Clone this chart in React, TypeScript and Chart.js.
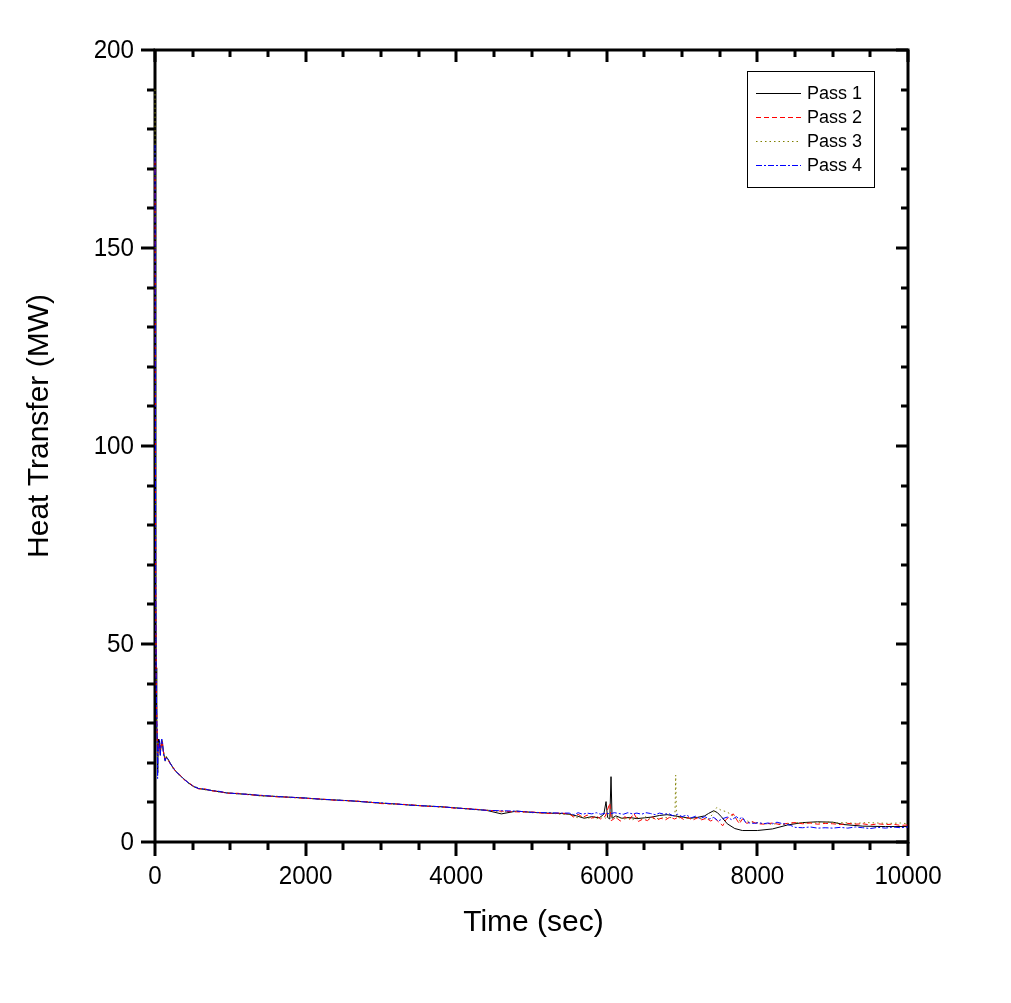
import React, { useEffect, useRef } from "react";
import { Chart, registerables } from "chart.js";

Chart.register(...registerables);

// ---- Data ----
const seriesNames = ["Pass 1", "Pass 2", "Pass 3", "Pass 4"];

const earlyTime = [
  0, 3, 6, 10, 15, 20, 25, 30, 35, 40,
  50, 60, 70, 80, 90, 100, 110, 120, 135, 150,
  170, 200, 240, 280, 320, 380, 440, 510, 580, 650,
  750, 850, 950, 1100, 1250, 1400, 1600, 1800, 2000, 2200,
  2400, 2600, 2800, 3000, 3200, 3400, 3600, 3800, 4000, 4200,
  4400, 4600, 4800, 5000, 5200, 5400,
];

const pass1Early = [
  200, 148, 96, 62, 44, 36, 31, 25, 17.5, 26,
  24, 25.5, 22, 24.5, 25.8, 24.8, 23, 22, 20.6, 21.5,
  21, 20, 18.7, 17.8, 17, 16, 15, 14, 13.5, 13.3,
  13, 12.7, 12.4, 12.2, 12, 11.7, 11.5, 11.3, 11.1, 10.8,
  10.6, 10.4, 10.1, 9.8, 9.6, 9.3, 9.1, 8.9, 8.6, 8.3,
  8.0, 7.1, 7.8, 7.5, 7.3, 7.2,
];
const pass2Early = [
  172, 140, 92, 60, 43, 35, 30, 27, 22, 25,
  23.5, 25, 22.5, 24, 25.5, 25, 23.2, 21.8, 20.8, 21.2,
  20.8, 19.8, 18.9, 17.6, 17.2, 15.8, 15.1, 14.1, 13.4, 13.5,
  12.9, 12.8, 12.3, 12.3, 11.9, 11.8, 11.4, 11.3, 11, 10.9,
  10.5, 10.4, 10.2, 9.7, 9.6, 9.4, 9.0, 8.9, 8.5, 8.4,
  8.0, 7.8, 7.6, 7.6, 7.2, 7.3,
];
const pass3Early = [
  190, 150, 98, 63, 45, 36, 31, 26, 21, 25.5,
  23, 25.2, 22.8, 24.2, 25.6, 24.6, 23.1, 22.1, 20.4, 21.6,
  20.9, 20.1, 18.5, 17.9, 16.8, 16.1, 14.8, 14.2, 13.6, 13.2,
  13.1, 12.6, 12.5, 12.1, 12.1, 11.6, 11.6, 11.2, 11.1, 10.7,
  10.7, 10.3, 10.2, 9.8, 9.5, 9.4, 9.1, 8.8, 8.7, 8.2,
  8.1, 7.6, 7.7, 7.4, 7.4, 7.0,
];
const pass4Early = [
  176, 146, 95, 61, 43, 35, 30, 24, 16, 24,
  23, 25.8, 21.8, 24.8, 26, 25.2, 22.8, 21.5, 20.5, 21.4,
  21, 19.9, 18.8, 17.7, 17.1, 15.9, 15, 14.1, 13.5, 13.4,
  13, 12.8, 12.4, 12.2, 12, 11.8, 11.5, 11.3, 11.1, 10.8,
  10.6, 10.4, 10.1, 9.9, 9.6, 9.3, 9.1, 8.9, 8.6, 8.3,
  8.0, 7.9, 7.8, 7.5, 7.4, 7.3,
];

const pass1TailTime = [
  5500, 5600, 5700, 5800, 5900, 5960, 5990, 6010, 6040, 6056,
  6070, 6120, 6200, 6300, 6400, 6500, 6600, 6700, 6800, 6900,
  7000, 7100, 7200, 7300, 7350, 7420, 7470, 7520, 7600, 7700,
  7800, 8000, 8200, 8400, 8600, 8800, 9000, 9150, 9400, 9700,
  10000,
];
const pass1TailHeat = [
  7.0, 6.6, 6.0, 6.4, 6.1, 7.0, 10.2, 6.2, 5.8, 16.5,
  6.0, 6.6, 6.0, 6.2, 5.9, 6.1, 6.3, 6.7, 6.9, 6.6,
  6.3, 6.0, 6.2, 6.6, 7.2, 7.9, 7.4, 6.4, 4.6, 3.4,
  2.9, 2.9, 3.3, 4.3, 4.9, 5.1, 5.0, 4.4, 4.0, 3.9,
  3.9,
];

const pass2TailTime = [
  5500, 5560, 5620, 5680, 5740, 5800, 5860, 5920, 5980, 6040,
  6060, 6120, 6180, 6240, 6300, 6360, 6420, 6480, 6540, 6600,
  6660, 6720, 6780, 6840, 6900, 6960, 7020, 7080, 7140, 7200,
  7260, 7320, 7380, 7440, 7500, 7540, 7580, 7640, 7680, 7720,
  7760, 7800, 7860, 7920, 8000, 8100, 8200, 8300, 8400, 8500,
  8600, 8700, 8800, 8900, 9000, 9100, 9200, 9300, 9400, 9500,
  9600, 9700, 9800, 9900, 10000,
];
const pass2TailHeat = [
  7.1, 6.3, 7.0, 6.2, 6.8, 6.0, 6.6, 5.8, 6.5, 9.8,
  5.4, 6.2, 5.3, 6.4, 5.6, 7.2, 5.2, 5.8, 5.4, 6.4,
  5.5, 6.0, 5.6, 6.3, 5.8, 6.4, 5.7, 6.2, 5.5, 6.1,
  5.6, 6.0, 5.3, 5.9, 4.8, 4.1, 5.6, 6.6, 7.1, 5.8,
  4.6, 5.8, 4.7, 5.2, 4.6, 4.5, 4.8, 4.4, 4.7, 4.9,
  4.6, 4.8, 4.5, 4.7, 4.6, 4.4, 4.7, 4.5, 4.6, 4.3,
  4.6, 4.4, 4.5, 4.2, 4.3,
];

const pass3TailTime = [
  5500, 5560, 5620, 5680, 5740, 5800, 5860, 5920, 5980, 6040,
  6100, 6160, 6220, 6280, 6340, 6400, 6460, 6520, 6580, 6640,
  6700, 6760, 6820, 6880, 6905, 6915, 6925, 6980, 7040, 7100,
  7160, 7220, 7280, 7340, 7400, 7460, 7520, 7580, 7640, 7700,
  7760, 7820, 7880, 7960, 8050, 8150, 8250, 8350, 8450, 8550,
  8650, 8750, 8850, 8950, 9050, 9150, 9300, 9450, 9600, 9750,
  9900, 10000,
];
const pass3TailHeat = [
  7.0, 6.5, 6.1, 6.6, 5.9, 6.3, 5.8, 6.4, 6.0, 6.8,
  5.9, 6.3, 5.7, 6.1, 5.6, 6.2, 5.8, 6.4, 5.7, 6.1,
  5.8, 6.3, 6.0, 6.4, 6.6, 16.9, 6.4, 6.0, 6.3, 5.8,
  6.2, 5.9, 6.1, 5.6, 6.9, 8.7, 8.0, 7.7, 7.1, 6.2,
  5.4, 5.7, 5.2, 5.0, 4.7, 4.5, 4.6, 4.4, 4.8, 4.9,
  4.8, 5.0, 4.9, 5.1, 4.8, 4.9, 4.7, 4.9, 4.8, 4.7,
  4.8, 4.6,
];

const pass4TailTime = [
  5500, 5560, 5620, 5680, 5740, 5800, 5860, 5920, 5980, 6040,
  6100, 6160, 6220, 6280, 6340, 6400, 6460, 6520, 6580, 6640,
  6700, 6760, 6820, 6880, 6940, 7000, 7060, 7120, 7180, 7240,
  7300, 7360, 7420, 7480, 7540, 7600, 7660, 7720, 7760, 7800,
  7840, 7900, 7960, 8020, 8080, 8140, 8200, 8260, 8320, 8380,
  8440, 8500, 8600, 8700, 8800, 8900, 9000, 9100, 9200, 9300,
  9400, 9500, 9600, 9700, 9800, 9900, 10000,
];
const pass4TailHeat = [
  7.3, 6.9, 7.4, 7.0, 7.3, 7.1, 7.4, 7.0, 7.3, 7.1,
  7.4, 7.2, 7.0, 7.4, 7.1, 7.3, 7.0, 7.4, 7.2, 6.9,
  7.3, 7.0, 7.2, 6.6, 7.0, 6.4, 6.8, 6.1, 6.5, 5.9,
  6.4, 5.8, 6.2, 5.3, 5.9, 6.3, 5.6, 6.4, 5.8, 6.3,
  5.0, 4.8, 4.7, 4.9, 4.6, 4.8, 4.6, 5.0, 4.7, 4.5,
  4.2, 3.7, 3.6, 3.8, 3.5, 3.6, 3.5, 3.7, 3.5, 3.8,
  3.6, 3.4, 3.7, 3.5, 3.8, 3.6, 3.8,
];

const xTickLabels = [0, 2000, 4000, 6000, 8000, 10000];
const yTickLabels = [0, 50, 100, 150, 200];
const xMinorStep = 500;
const yMinorStep = 10;

const xTitle = "Time (sec)";
const yTitle = "Heat Transfer (MW)";

// ---- Styles ----
const colors = ["#000000", "#ff0000", "#808000", "#0000ff"];
const dashes = [[], [5, 3], [1.5, 3], [6, 2, 2, 2]];
const drawOrder = [3, 1, 2, 0];
const FONT = '"Liberation Sans", Arial, sans-serif';

function buildPoints(early: number[], tailT: number[], tailV: number[]) {
  const pts: { x: number; y: number }[] = [];
  for (let i = 0; i < earlyTime.length; i++) pts.push({ x: earlyTime[i], y: early[i] });
  for (let i = 0; i < tailT.length; i++) pts.push({ x: tailT[i], y: tailV[i] });
  return pts;
}

function seg(ctx: CanvasRenderingContext2D, x1: number, y1: number, x2: number, y2: number) {
  ctx.beginPath();
  ctx.moveTo(x1, y1);
  ctx.lineTo(x2, y2);
  ctx.stroke();
}

function squeezedText(ctx: CanvasRenderingContext2D, text: string, x: number, y: number, sx: number) {
  ctx.save();
  ctx.translate(x, y);
  ctx.scale(sx, 1);
  ctx.fillText(text, 0, 0);
  ctx.restore();
}

const framePlugin = {
  id: "originFrame",
  beforeDatasetsDraw(chart: any) {
    const ctx = chart.ctx as CanvasRenderingContext2D;
    const xs = chart.scales.x;
    const ys = chart.scales.y;
    const { left, right, top, bottom } = chart.chartArea;
    ctx.save();
    ctx.strokeStyle = "#000";
    ctx.lineWidth = 3;
    ctx.lineCap = "butt";
    ctx.setLineDash([]);
    ctx.strokeRect(left, top, right - left, bottom - top);

    for (let v = xs.min; v <= xs.max + 1e-6; v += xMinorStep) {
      const px = Math.round(xs.getPixelForValue(v));
      const major = xTickLabels.includes(v);
      seg(ctx, px, bottom, px, bottom + (major ? 14 : 8));
      seg(ctx, px, top, px, top + (major ? 12 : 7));
    }
    for (let v = ys.min; v <= ys.max + 1e-6; v += yMinorStep) {
      const py = Math.round(ys.getPixelForValue(v));
      const major = yTickLabels.includes(v);
      seg(ctx, left - (major ? 14 : 8), py, left, py);
      seg(ctx, right - (major ? 12 : 7), py, right, py);
    }

    ctx.fillStyle = "#000";
    ctx.font = `26px ${FONT}`;
    ctx.textBaseline = "alphabetic";
    ctx.textAlign = "center";
    for (const v of xTickLabels) {
      squeezedText(ctx, String(v), xs.getPixelForValue(v), bottom + 42, 0.93);
    }
    ctx.textAlign = "right";
    for (const v of yTickLabels) {
      squeezedText(ctx, String(v), left - 21, ys.getPixelForValue(v) + 8, 0.93);
    }

    ctx.font = `30px ${FONT}`;
    ctx.textAlign = "center";
    ctx.fillText(xTitle, (left + right) / 2 + 2, bottom + 89);
    ctx.save();
    ctx.translate(48, 426);
    ctx.rotate(-Math.PI / 2);
    ctx.fillText(yTitle, 0, 0);
    ctx.restore();
    ctx.restore();
  },
  afterDraw(chart: any) {
    const ctx = chart.ctx as CanvasRenderingContext2D;
    ctx.save();
    const lx = 747, ly = 71, lw = 127, lh = 116;
    ctx.lineWidth = 1;
    ctx.strokeStyle = "#000";
    ctx.setLineDash([]);
    ctx.strokeRect(lx + 0.5, ly + 0.5, lw, lh);
    ctx.font = `18px ${FONT}`;
    ctx.textAlign = "left";
    ctx.textBaseline = "middle";
    seriesNames.forEach((name, i) => {
      const y = 93 + i * 24 + 0.5;
      ctx.strokeStyle = colors[i];
      ctx.lineWidth = 1;
      ctx.setLineDash(dashes[i]);
      seg(ctx, 756, y, 801, y);
      ctx.setLineDash([]);
      ctx.fillStyle = "#000";
      ctx.fillText(name, 807, y + 1);
    });
    ctx.restore();
  },
};

export default function App() {
  const canvasRef = useRef<HTMLCanvasElement | null>(null);

  useEffect(() => {
    document.body.style.margin = "0";
    const canvas = canvasRef.current;
    if (!canvas) return;
    const series = [
      buildPoints(pass1Early, pass1TailTime, pass1TailHeat),
      buildPoints(pass2Early, pass2TailTime, pass2TailHeat),
      buildPoints(pass3Early, pass3TailTime, pass3TailHeat),
      buildPoints(pass4Early, pass4TailTime, pass4TailHeat),
    ];
    const chart = new Chart(canvas, {
      type: "line",
      data: {
        datasets: series.map((pts, i) => ({
          label: seriesNames[i],
          data: pts,
          borderColor: colors[i],
          borderWidth: 1,
          borderDash: dashes[i],
          pointRadius: 0,
          fill: false,
          tension: 0,
          clip: 3,
          order: drawOrder[i],
        })),
      },
      options: {
        animation: false,
        responsive: false,
        devicePixelRatio: 1,
        parsing: false as any,
        layout: { padding: { left: 155, top: 50, right: 103, bottom: 161 } },
        plugins: { legend: { display: false }, tooltip: { enabled: false } },
        scales: {
          x: { type: "linear", min: 0, max: 10000, display: false },
          y: { type: "linear", min: 0, max: 200, display: false },
        },
      },
      plugins: [framePlugin],
    });
    return () => chart.destroy();
  }, []);

  return (
    <div style={{ width: 1011, height: 1003, background: "#fff" }}>
      <canvas ref={canvasRef} width={1011} height={1003} />
    </div>
  );
}
